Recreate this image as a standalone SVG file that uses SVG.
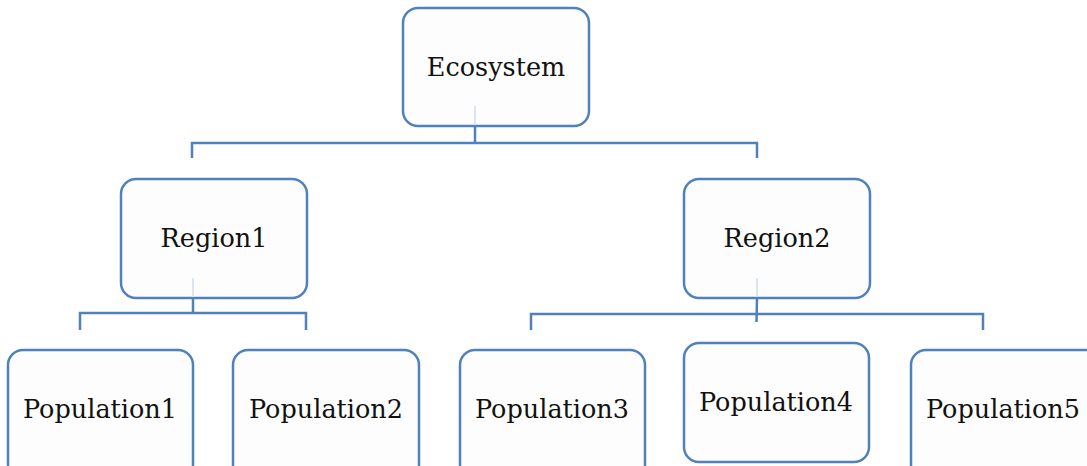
<svg xmlns="http://www.w3.org/2000/svg" width="1087" height="466" viewBox="0 0 1087 466">
<style>
.box{fill:#fdfdfd;stroke:#4f81bd;stroke-width:2.5}
.lbl{font-family:"DejaVu Serif","Liberation Serif",serif;font-size:25.5px;fill:#111;text-anchor:middle}
.ln{fill:none;stroke:#4f81bd;stroke-width:2.5}
.faint{fill:none;stroke:#dce6f2;stroke-width:2}
</style>
<rect width="1087" height="466" fill="#ffffff"/>
<g id="ecosystem"><rect class="box" x="403" y="8" width="186" height="118" rx="15"/><text class="lbl" x="496" y="76">Ecosystem</text></g>
<g id="region1"><rect class="box" x="121" y="179" width="186" height="119" rx="15"/><text class="lbl" x="214" y="247">Region1</text></g>
<g id="region2"><rect class="box" x="684" y="179" width="186" height="119" rx="15"/><text class="lbl" x="777" y="247">Region2</text></g>
<g id="population1"><rect class="box" x="8" y="350" width="185" height="130" rx="15"/><text class="lbl" x="100" y="418">Population1</text></g>
<g id="population2"><rect class="box" x="233" y="350" width="186" height="130" rx="15"/><text class="lbl" x="326" y="418">Population2</text></g>
<g id="population3"><rect class="box" x="460" y="350" width="185" height="130" rx="15"/><text class="lbl" x="552" y="418">Population3</text></g>
<g id="population4"><rect class="box" x="684" y="343" width="185" height="119" rx="15"/><text class="lbl" x="776" y="411">Population4</text></g>
<g id="population5"><rect class="box" x="911" y="350" width="190" height="130" rx="15"/><text class="lbl" x="1003" y="418">Population5</text></g>
<g id="connectors">
<line class="faint" x1="475" y1="106" x2="475" y2="125"/>
<line class="faint" x1="193" y1="278" x2="193" y2="297"/>
<line class="faint" x1="757" y1="278" x2="757" y2="297"/>
<path class="ln" d="M475 126 V143 M192 158 V143 H757 V158"/>
<path class="ln" d="M193 298 V313 M80 330 V313 H306 V330"/>
<path class="ln" d="M757 298 L756.5 322 M531 330 V314 H983 V330"/>
</g>
</svg>
